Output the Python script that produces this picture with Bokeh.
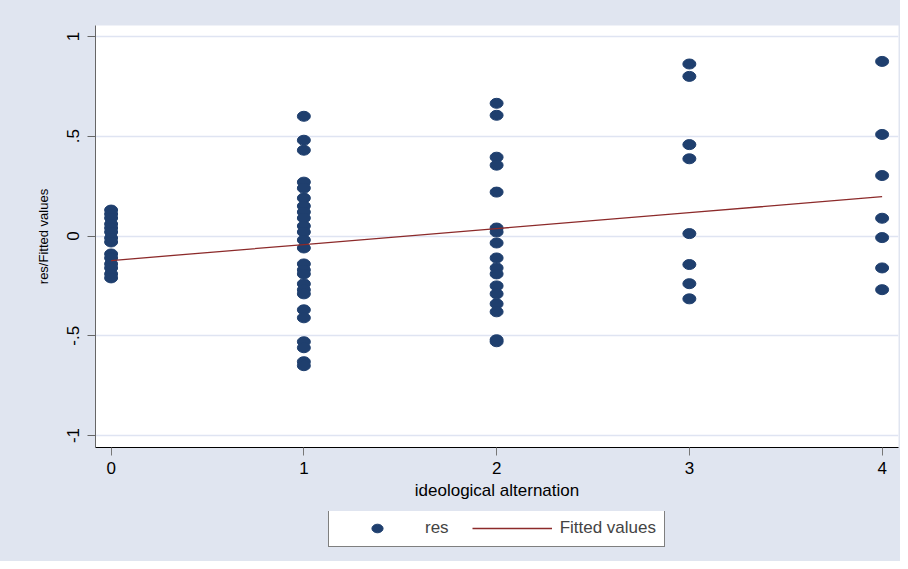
from bokeh.plotting import figure
from bokeh.layouts import column
from bokeh.models import (ColumnDataSource, FixedTicker, CustomJSTickFormatter,
                          Legend, LegendItem, Range1d)
from bokeh.embed import file_html
from bokeh.resources import INLINE

# ---- data ----
res_at_0 = [0.13, 0.11, 0.09, 0.06, 0.04, 0.02, -0.01, -0.03, -0.09, -0.11,
            -0.14, -0.16, -0.19, -0.21]
res_at_1 = [0.60, 0.48, 0.43, 0.27, 0.24, 0.19, 0.15, 0.12, 0.09, 0.05, 0.02,
            -0.02, -0.06, -0.14, -0.17, -0.19, -0.24, -0.27, -0.29, -0.37,
            -0.41, -0.53, -0.56, -0.63, -0.65]
res_at_2 = [0.665, 0.605, 0.395, 0.355, 0.22, 0.04, 0.02, -0.035, -0.11,
            -0.16, -0.19, -0.25, -0.29, -0.34, -0.38, -0.52, -0.53]
res_at_3 = [0.862, 0.80, 0.458, 0.387, 0.012, -0.143, -0.239, -0.315]
res_at_4 = [0.875, 0.509, 0.303, 0.089, -0.008, -0.16, -0.269]
alternation_levels = [0, 1, 2, 3, 4]
fitted_values = [-0.123, -0.043, 0.037, 0.117, 0.197]
y_ticks = [-1, -0.5, 0, 0.5, 1]
x_ticks = [0, 1, 2, 3, 4]

groups = [res_at_0, res_at_1, res_at_2, res_at_3, res_at_4]
xs, ys = [], []
for lvl, vals in zip(alternation_levels, groups):
    xs += [lvl] * len(vals)
    ys += vals
res_src = ColumnDataSource(dict(x=xs, y=ys))
fit_src = ColumnDataSource(dict(x=alternation_levels, y=fitted_values))

BG = "#e0e5f0"
GRID = "#dfe4f2"
NAVY = "#1f3f6e"
MAROON = "#8c2a2a"
FONT = "Liberation Sans"

p = figure(width=900, height=511,
           x_range=Range1d(-0.081, 4.085), y_range=Range1d(-1.06, 1.055),
           output_backend="svg", toolbar_location=None,
           min_border_left=95, min_border_right=2, min_border_top=25,
           min_border_bottom=64,
           background_fill_color="white", border_fill_color=BG,
           outline_line_color=None)

res_style = dict(width=13, height=10, width_units="screen", height_units="screen",
                 fill_color=NAVY, line_color=NAVY)
fit_style = dict(line_color=MAROON, line_width=1.3)

p.ellipse(x="x", y="y", source=res_src, **res_style)
p.line(x="x", y="y", source=fit_src, **fit_style)

# axes
p.xaxis.ticker = FixedTicker(ticks=x_ticks)
p.yaxis.ticker = FixedTicker(ticks=y_ticks)
p.yaxis.formatter = CustomJSTickFormatter(
    code="return tick.toString().replace('0.', '.');")
for ax in (p.xaxis[0], p.yaxis[0]):
    ax.major_tick_in = 0
    ax.major_tick_out = 8
    ax.minor_tick_line_color = None
    ax.major_label_text_font = FONT
    ax.major_label_text_font_size = "17px"
    ax.major_label_text_color = "black"
    ax.axis_label_text_font = FONT
    ax.axis_label_text_font_style = "normal"
    ax.axis_label_text_color = "black"

p.xaxis.axis_label = "ideological alternation"
p.xaxis.axis_label_text_font_size = "17px"
p.xaxis.axis_line_color = "black"
p.xaxis.major_tick_line_color = "#777777"
p.xaxis.major_label_standoff = 6
p.xaxis.axis_label_standoff = 4

p.yaxis.axis_label = "res/Fitted values"
p.yaxis.axis_label_text_font_size = "13px"
p.yaxis.axis_line_color = "#666666"
p.yaxis.major_tick_line_color = "#666666"
p.yaxis.major_label_orientation = "vertical"
p.yaxis.major_label_standoff = 8
p.yaxis.axis_label_standoff = 14

p.xgrid.visible = False
p.ygrid.ticker = FixedTicker(ticks=y_ticks)
p.ygrid.grid_line_color = GRID
p.ygrid.grid_line_width = 1.5

# legend strip below the plot (same series, drawn out of view; only the key shows)
leg = figure(width=900, height=50, x_range=Range1d(100, 101), y_range=Range1d(100, 101),
             output_backend="svg", toolbar_location=None,
             x_axis_type=None, y_axis_type=None, min_border=0,
             background_fill_alpha=0, border_fill_color=BG,
             outline_line_color=None)
leg.grid.visible = False
k_res = leg.ellipse(x="x", y="y", source=res_src, **res_style)
k_fit = leg.line(x="x", y="y", source=fit_src, **fit_style)

legend = Legend(items=[LegendItem(label="res", renderers=[k_res]),
                       LegendItem(label="Fitted values", renderers=[k_fit])],
                orientation="horizontal", location=(233, 14),
                border_line_color="black", border_line_width=1,
                background_fill_color="white", background_fill_alpha=1,
                label_text_font=FONT, label_text_font_size="17px",
                glyph_width=80, glyph_height=14, spacing=23, padding=8,
                label_standoff=8, margin=0)
leg.add_layout(legend)

layout = column(p, leg, spacing=0)
layout.styles = {"background-color": BG}
open("out.html", "w").write(file_html(layout, INLINE))
